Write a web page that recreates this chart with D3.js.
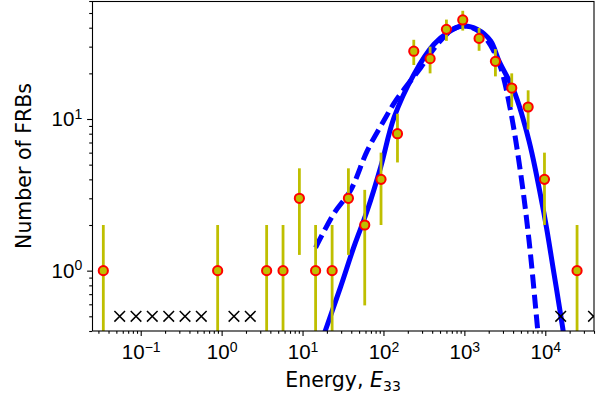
<!DOCTYPE html>
<html>
<head>
<meta charset="utf-8">
<script src="https://cdn.jsdelivr.net/npm/d3@7"></script>
<style>
	body { margin: 0; background: #fff; }
	svg { display: block; font-family: 'DejaVu Sans', sans-serif; }
	.axis path, .axis line { stroke: #000; stroke-width: 1.1; }
	.axis text { fill: #000; font-size: 20.5px; }
	.label { fill: #000; font-size: 20.5px; }
</style>
</head>
<body>
<div id="chart"></div>
<script>
// binned counts (bin centres)
const energyBins = [0.0345, 0.893, 3.60, 5.74, 9.14, 14.5, 23.2, 36.9, 58.7, 93.3, 149, 237, 377, 600, 955, 1520, 2420, 3850, 6140, 9770, 24700];
const frbCounts = [1, 1, 1, 1, 3, 1, 1, 3, 2, 4, 8, 28, 25, 39, 45, 34, 24, 16, 12, 4, 1];
const countErr = [1, 1, 1, 1, 1.73, 1, 1, 1.73, 1.41, 2, 2.83, 5.29, 5, 6.24, 6.71, 5.83, 4.9, 4, 3.46, 2, 1];

// empty bins, drawn as crosses
const emptyBins = [0.0550, 0.0875, 0.139, 0.222, 0.353, 0.561, 1.42, 2.26, 15500, 39400];
const emptyLevel = [0.5, 0.5, 0.5, 0.5, 0.5, 0.5, 0.5, 0.5, 0.5, 0.5];

// model curves
const fitSolidE = [15.8, 19.3, 29.6, 43.2, 63.2, 92.3, 135, 238, 421, 617, 945, 1450, 2115, 2680, 4100, 6280, 9640, 12800, 16300, 18200];
const fitSolidN = [0.30, 0.408, 0.785, 1.44, 2.50, 4.81, 10.2, 19.7, 31.1, 37.0, 41.0, 39.0, 32.7, 24.1, 15.3, 7.21, 2.38, 0.96, 0.43, 0.29];
const fitDashE = [14.5, 24.4, 39.3, 63.2, 101, 142, 288, 464, 708, 1000, 1585, 2138, 2810, 3730, 4970, 6290, 7980, 8910];
const fitDashN = [1.42, 2.38, 3.39, 6.19, 9.75, 13.2, 21.8, 31.1, 38.9, 41.2, 37.2, 30.2, 21.8, 11.3, 4.36, 1.59, 0.43, 0.23];

// axes
const xDomain = [0.025, 40000];
const yDomain = [0.4, 60];
const xTicks = [0.1, 1, 10, 100, 1000, 10000];
const xTickExp = ['\u22121', '0', '1', '2', '3', '4'];
const yTicks = [1, 10];
const yTickExp = ['0', '1'];

const totalW = 604;
const totalH = 399;
const marginLeft = 92;
const marginTop = 1;
const marginRight = 10;
const marginBottom = 68;
const width = totalW - marginLeft - marginRight;
const height = totalH - marginTop - marginBottom;

const scaleX = d3.scaleLog().domain(xDomain).range([0, width]);
const scaleY = d3.scaleLog().domain(yDomain).range([height, 0]);

const $svg = d3.select('#chart').append('svg')
	.attr('width', totalW)
	.attr('height', totalH);

const $g = $svg.append('g')
	.attr('transform', `translate(${marginLeft}, ${marginTop})`);

$svg.append('clipPath').attr('id', 'plot-clip')
	.append('rect')
	.attr('width', width)
	.attr('height', height);

const $vis = $g.append('g').attr('clip-path', 'url(#plot-clip)');

// curves
const line = d3.line()
	.x(d => scaleX(d[0]))
	.y(d => scaleY(d[1]))
	.curve(d3.curveCatmullRom);

$vis.append('path')
	.datum(fitSolidE.map((e, i) => [e, fitSolidN[i]]))
	.attr('d', line)
	.attr('fill', 'none')
	.attr('stroke', '#0000ff')
	.attr('stroke-width', 5);

$vis.append('path')
	.datum(fitDashE.map((e, i) => [e, fitDashN[i]]))
	.attr('d', line)
	.attr('fill', 'none')
	.attr('stroke', '#0000ff')
	.attr('stroke-width', 5)
	.attr('stroke-dasharray', '14,6');

// crosses for empty bins
const crossR = 5.3;
$vis.selectAll('.cross')
	.data(emptyBins.map((e, i) => [e, emptyLevel[i]]))
	.enter().append('path')
	.attr('class', 'cross')
	.attr('transform', d => `translate(${scaleX(d[0])}, ${scaleY(d[1])})`)
	.attr('d', `M${-crossR},${-crossR}L${crossR},${crossR}M${-crossR},${crossR}L${crossR},${-crossR}`)
	.attr('stroke', '#000')
	.attr('stroke-width', 1.5)
	.attr('fill', 'none');

// error bars
const points = energyBins.map((e, i) => ({ e, n: frbCounts[i], err: countErr[i] }));

$vis.selectAll('.err')
	.data(points)
	.enter().append('line')
	.attr('class', 'err')
	.attr('x1', d => scaleX(d.e))
	.attr('x2', d => scaleX(d.e))
	.attr('y1', d => (d.n - d.err > 0 ? scaleY(d.n - d.err) : height + 10))
	.attr('y2', d => scaleY(d.n + d.err))
	.attr('stroke', '#bfbf00')
	.attr('stroke-width', 2.8);

$vis.selectAll('.pt')
	.data(points)
	.enter().append('circle')
	.attr('class', 'pt')
	.attr('cx', d => scaleX(d.e))
	.attr('cy', d => scaleY(d.n))
	.attr('r', 4.6)
	.attr('fill', '#bfbf00')
	.attr('stroke', '#ff0000')
	.attr('stroke-width', 2);

// spines
$g.append('rect')
	.attr('x', 0.5)
	.attr('y', 0.5)
	.attr('width', width - 0.5)
	.attr('height', height - 0.5)
	.attr('fill', 'none')
	.attr('stroke', '#000')
	.attr('stroke-width', 1.1);

// minor ticks
const isDecade = v => Math.abs(Math.log10(v) - Math.round(Math.log10(v))) < 1e-9;
const xMinor = scaleX.ticks().filter(v => !isDecade(v));
const yMinor = scaleY.ticks().filter(v => !isDecade(v));

$g.append('g').attr('class', 'axis')
	.attr('transform', `translate(0, ${height})`)
	.call(d3.axisBottom(scaleX).tickValues(xMinor).tickSize(2.8).tickFormat(''))
	.select('.domain').remove();

$g.append('g').attr('class', 'axis')
	.call(d3.axisLeft(scaleY).tickValues(yMinor).tickSize(2.8).tickFormat(''))
	.select('.domain').remove();

// major ticks with 10^n labels
const $xAxis = $g.append('g').attr('class', 'axis')
	.attr('transform', `translate(0, ${height})`)
	.call(d3.axisBottom(scaleX).tickValues(xTicks).tickSize(4.9).tickPadding(4.9).tickFormat(() => ''));
$xAxis.select('.domain').remove();
$xAxis.selectAll('.tick text')
	.attr('dy', '0.9em')
	.each(function (d, i) {
		const $t = d3.select(this);
		$t.text('10');
		$t.append('tspan').attr('dy', -7.5).style('font-size', '14px').text(xTickExp[i]);
	});

const $yAxis = $g.append('g').attr('class', 'axis')
	.call(d3.axisLeft(scaleY).tickValues(yTicks).tickSize(4.9).tickPadding(4.9).tickFormat(() => ''));
$yAxis.select('.domain').remove();
$yAxis.selectAll('.tick text')
	.each(function (d, i) {
		const $t = d3.select(this);
		$t.text('10');
		$t.append('tspan').attr('dy', -7.5).style('font-size', '14px').text(yTickExp[i]);
	});

// axis labels
const $xl = $svg.append('text')
	.attr('class', 'label')
	.attr('x', marginLeft + width / 2)
	.attr('y', 387)
	.attr('text-anchor', 'middle');
$xl.append('tspan').text('Energy, ');
$xl.append('tspan').style('font-style', 'italic').text('E');
$xl.append('tspan').attr('dy', 4).style('font-size', '14px').text('33');

$svg.append('text')
	.attr('class', 'label')
	.attr('transform', `translate(31, ${marginTop + height / 2}) rotate(-90)`)
	.attr('text-anchor', 'middle')
	.text('Number of FRBs');
</script>
</body>
</html>
